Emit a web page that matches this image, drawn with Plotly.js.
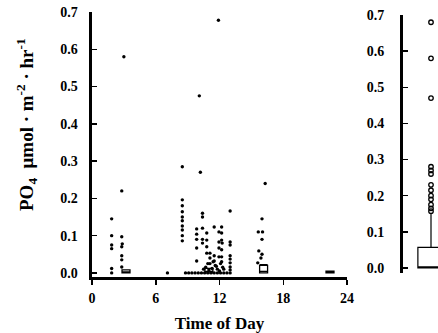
<!DOCTYPE html>
<html>
<head>
<meta charset="utf-8">
<script src="https://cdn.plot.ly/plotly-3.0.1.min.js"></script>
<style>html,body{margin:0;padding:0;background:#fff;}#chart{width:438px;height:333px;}</style>
</head>
<body>
<div id="chart"></div>
<script>
// Left panel: individual flux values by time of day (hour, PO4 flux)
const dotHours = [
  1.85,1.85,1.85,1.85,1.85,1.85,
  2.8,2.8,2.85,2.8,2.8,2.8,2.8,3.0,
  7.1,
  8.5,8.5,8.5,8.5,8.5,8.5,8.5,8.5,8.5,8.5,
  9.85,9.85,9.85,9.85,9.85,
  10.1,10.2,
  10.4,10.4,10.4,10.4,10.4,
  10.8,10.8,10.8,10.8,
  11.1,11.1,11.1,
  11.5,11.5,11.5,
  11.9,
  11.95,11.95,11.95,11.95,
  12.2,12.2,12.2,12.25,12.2,12.2,12.2,
  13.0,13.0,13.0,13.0,13.0,13.0,13.0,13.0,
  16.3,16.0,15.65,16.05,16.0,15.7,16.0,15.9,15.6,
  10.5,10.7,11.0,11.3,11.6,11.8,12.0,12.3,10.9,11.4,12.1,11.7,12.4,
  8.8,9.1,9.4,9.7,10.0,10.3,10.6,10.9,11.2,11.5,11.8,12.1,12.4,12.7,13.0
];
const dotValues = [
  0.145,0.10,0.075,0.065,0.012,0.0,
  0.22,0.097,0.078,0.07,0.046,0.035,0.016,0.58,
  0.0,
  0.285,0.196,0.18,0.164,0.15,0.14,0.126,0.115,0.10,0.086,
  0.118,0.104,0.09,0.067,0.032,
  0.475,0.27,
  0.16,0.15,0.12,0.09,0.08,
  0.107,0.088,0.07,0.053,
  0.053,0.04,0.025,
  0.123,0.046,0.032,
  0.678,
  0.11,0.083,0.067,0.043,
  0.123,0.107,0.088,0.08,0.062,0.043,0.03,
  0.166,0.083,0.075,0.046,0.037,0.027,0.016,0.008,
  0.24,0.145,0.11,0.11,0.09,0.059,0.05,0.04,0.027,
  0.01,0.015,0.008,0.012,0.02,0.01,0.005,0.015,0.025,0.03,0.025,0.018,0.01,
  0.0,0.0,0.0,0.0,0.0,0.0,0.0,0.0,0.0,0.0,0.0,0.0,0.0,0.0,0.0
];

// Left panel: small hourly boxes sitting near zero
const boxHours = [3.2, 11.0, 16.15, 22.4];
const boxQ1 = [0, 0, 0, 0];
const boxMedian = [0.002, 0.004, 0.004, 0.001];
const boxQ3 = [0.008, 0.012, 0.02, 0.005];
const boxUpper = [0.008, 0.012, 0.022, 0.005];

// Right panel: overall distribution
const allQ1 = [0];
const allMedian = [0.003];
const allQ3 = [0.057];
const allLower = [0];
const allUpper = [0.15];
const outlierValues = [0.68,0.58,0.47,0.28,0.27,0.26,0.23,0.215,0.2,0.19,0.175,0.165,0.157];

const yTicks = [0,0.1,0.2,0.3,0.4,0.5,0.6,0.7];
const yTickText = ['0.0','0.1','0.2','0.3','0.4','0.5','0.6','0.7'];
const xTicks = [0,6,12,18,24];
const xTickText = ['0','6','12','18','24'];

const FONT = 'Liberation Serif, Times New Roman, serif';
const H = 333, B = 56, PH = H - B;

const traces = [
  {
    type: 'scatter', mode: 'markers',
    x: dotHours, y: dotValues, xaxis: 'x', yaxis: 'y',
    marker: {color: '#000', size: 3.4, symbol: 'circle'},
    cliponaxis: false,
    hoverinfo: 'x+y', showlegend: false
  },
  {
    type: 'box', x: boxHours, q1: boxQ1, median: boxMedian, q3: boxQ3,
    lowerfence: boxQ1, upperfence: boxUpper,
    xaxis: 'x', yaxis: 'y', width: 0.75, boxpoints: false,
    line: {color: '#000', width: 1.3}, fillcolor: '#fff',
    whiskerwidth: 1, showlegend: false
  },
  {
    type: 'box', x: [0.8], q1: allQ1, median: allMedian, q3: allQ3,
    lowerfence: allLower, upperfence: allUpper,
    xaxis: 'x2', yaxis: 'y2', width: 0.75, boxpoints: false,
    line: {color: '#000', width: 1.2}, fillcolor: '#fff',
    whiskerwidth: 0, showlegend: false
  },
  {
    type: 'scatter', mode: 'markers',
    x: outlierValues.map(() => 0.8), y: outlierValues, xaxis: 'x2', yaxis: 'y2',
    marker: {color: '#000', size: 4.5, symbol: 'circle-open', line: {color: '#000', width: 1.3}},
    showlegend: false
  }
];

const layout = {
  width: 438, height: 333,
  margin: {l: 0, r: 0, t: 0, b: B},
  paper_bgcolor: '#fff', plot_bgcolor: '#fff',
  font: {family: FONT, color: '#000', size: 14, weight: 'bold'},
  showlegend: false,
  xaxis: {
    domain: [92/438, 347/438], range: [0, 24],
    tickvals: xTicks, ticktext: xTickText,
    ticks: 'outside', ticklen: 5, tickwidth: 1.5, tickcolor: '#000',
    showline: true, linewidth: 2.5, linecolor: '#000',
    showgrid: false, zeroline: false,
    tickfont: {family: FONT, size: 14, weight: 'bold'},
    ticklabelstandoff: 2,
    title: {text: 'Time of Day', font: {family: FONT, size: 17, weight: 'bold'}, standoff: 12},
    automargin: false, anchor: 'y'
  },
  yaxis: {
    domain: [0, (PH - 12)/PH], range: [-0.011, 0.7],
    tickvals: yTicks, ticktext: yTickText,
    ticks: 'inside', ticklen: 5, tickwidth: 1.5, tickcolor: '#000',
    showline: true, linewidth: 3.5, linecolor: '#000',
    showgrid: false, zeroline: false,
    tickfont: {family: FONT, size: 14, weight: 'bold'},
    ticklabelstandoff: 8,
    automargin: false, anchor: 'x'
  },
  xaxis2: {
    domain: [403/438, 1], range: [0, 1],
    showline: false, showticklabels: false, ticks: '', showgrid: false, zeroline: false,
    anchor: 'y2'
  },
  yaxis2: {
    domain: [(PH - 273)/PH, (PH - 15)/PH], range: [-0.014, 0.7],
    tickvals: yTicks, ticktext: yTickText,
    ticks: 'inside', ticklen: 5, tickwidth: 1.5, tickcolor: '#000',
    showline: true, linewidth: 3, linecolor: '#000',
    showgrid: false, zeroline: false,
    tickfont: {family: FONT, size: 14, weight: 'bold'},
    ticklabelstandoff: 13,
    automargin: false, anchor: 'x2'
  },
  annotations: [{
    text: 'PO<sub>4</sub>  μmol · m<sup>-2</sup> · hr<sup>-1</sup>',
    xref: 'paper', yref: 'paper', x: 27/438, y: (PH - 125)/PH,
    xanchor: 'center', yanchor: 'middle', textangle: -90, showarrow: false,
    font: {family: FONT, size: 19, weight: 'bold', color: '#000'}
  }]
};

Plotly.newPlot('chart', traces, layout, {staticPlot: true, displayModeBar: false});
</script>
</body>
</html>
